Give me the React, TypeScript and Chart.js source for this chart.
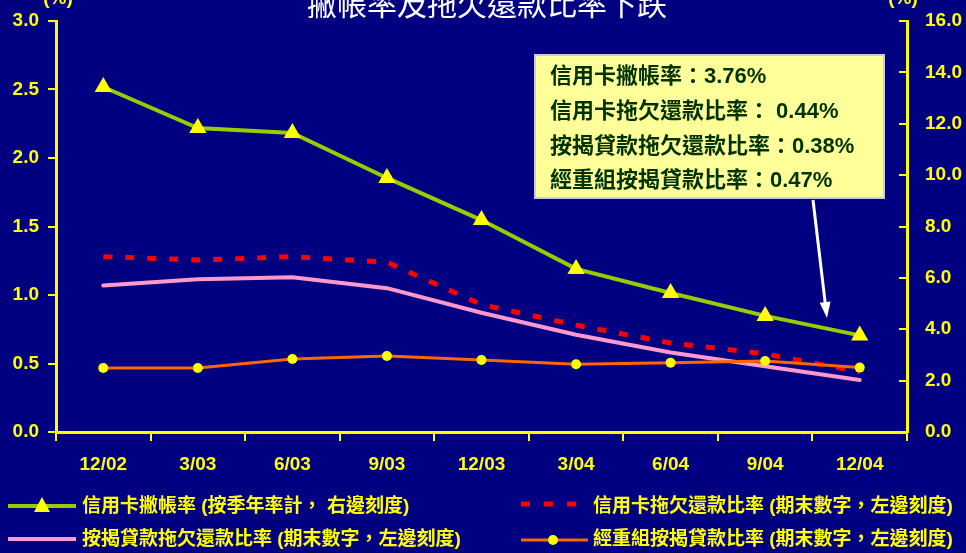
import React, { useEffect, useRef } from "react";
import { Chart, registerables } from "chart.js";

Chart.register(...registerables);

const categories = ["12/02", "3/03", "6/03", "9/03", "12/03", "3/04", "6/04", "9/04", "12/04"];
const chargeOffRate = [13.43, 11.83, 11.64, 9.89, 8.25, 6.35, 5.41, 4.52, 3.76];
const cardDelinquency = [1.28, 1.255, 1.28, 1.24, 0.93, 0.78, 0.65, 0.57, 0.44];
const mortgageDelinquency = [1.07, 1.115, 1.13, 1.05, 0.87, 0.71, 0.58, 0.48, 0.38];
const rescheduledMortgage = [0.467, 0.467, 0.533, 0.555, 0.525, 0.495, 0.505, 0.518, 0.47];

const leftTicks = [0, 0.5, 1, 1.5, 2, 2.5, 3];
const rightTicks = [0, 2, 4, 6, 8, 10, 12, 14, 16];

const titleText = "撇帳率及拖欠還款比率下跌";
const unitLabel = "(%)";
const calloutLines = [
  "信用卡撇帳率：3.76%",
  "信用卡拖欠還款比率： 0.44%",
  "按揭貸款拖欠還款比率：0.38%",
  "經重組按揭貸款比率：0.47%",
];
const legendLabels = [
  "信用卡撇帳率 (按季年率計， 右邊刻度)",
  "信用卡拖欠還款比率 (期末數字，左邊刻度)",
  "按揭貸款拖欠還款比率 (期末數字，左邊刻度)",
  "經重組按揭貸款比率 (期末數字，左邊刻度)",
];

const NAVY = "#000080";
const YELLOW = "#FFFF00";
const GREEN = "#99CC00";
const PINK = "#FF99CC";
const RED = "#FF0000";
const ORANGE = "#FF6600";
const LATIN = "'Liberation Sans', Arial, sans-serif";
const MIXED = "'Liberation Sans', 'Noto Sans CJK TC', sans-serif";

const decorPlugin = {
  id: "decor",
  beforeDraw(chart: any) {
    const ctx = chart.ctx;
    ctx.save();
    ctx.fillStyle = NAVY;
    ctx.fillRect(0, 0, chart.width, chart.height);
    ctx.restore();
  },
  afterDraw(chart: any) {
    const ctx = chart.ctx;
    const area = chart.chartArea;
    const yR = chart.scales.yR;
    ctx.save();

    // inward ticks on the right axis
    ctx.strokeStyle = YELLOW;
    ctx.lineWidth = 2;
    rightTicks.forEach((v) => {
      const y = Math.round(yR.getPixelForValue(v));
      ctx.beginPath();
      ctx.moveTo(area.right - 8, y);
      ctx.lineTo(area.right, y);
      ctx.stroke();
    });

    // title
    ctx.fillStyle = "#FFFFFF";
    ctx.font = "30px 'Noto Sans CJK TC', sans-serif";
    ctx.textAlign = "center";
    ctx.textBaseline = "alphabetic";
    ctx.fillText(titleText, 487, 15);

    // unit labels
    ctx.fillStyle = YELLOW;
    ctx.font = `bold 19px ${LATIN}`;
    ctx.fillText(unitLabel, area.left + 2, 4);
    ctx.fillText(unitLabel, area.right - 4, 4);

    // callout box
    const bx = 535, by = 55, bw = 349, bh = 143;
    ctx.fillStyle = "#FFFF99";
    ctx.fillRect(bx, by, bw, bh);
    ctx.strokeStyle = "#C8C8F0";
    ctx.lineWidth = 2;
    ctx.strokeRect(bx, by, bw, bh);
    ctx.fillStyle = "#003300";
    ctx.font = `bold 22px ${MIXED}`;
    ctx.textAlign = "left";
    ctx.textBaseline = "middle";
    const lineYs = [77, 112, 147, 181];
    calloutLines.forEach((t, i) => ctx.fillText(t, 550, lineYs[i]));

    // arrow
    const ax0 = 813, ay0 = by + bh + 2, ax1 = 827, ay1 = 318;
    const ang = Math.atan2(ay1 - ay0, ax1 - ax0);
    ctx.strokeStyle = "#FFFFFF";
    ctx.fillStyle = "#FFFFFF";
    ctx.lineWidth = 3;
    ctx.beginPath();
    ctx.moveTo(ax0, ay0);
    ctx.lineTo(ax1 - Math.cos(ang) * 12, ay1 - Math.sin(ang) * 12);
    ctx.stroke();
    ctx.beginPath();
    ctx.moveTo(ax1, ay1);
    ctx.lineTo(ax1 - Math.cos(ang) * 16 + Math.sin(ang) * 5.5, ay1 - Math.sin(ang) * 16 - Math.cos(ang) * 5.5);
    ctx.lineTo(ax1 - Math.cos(ang) * 16 - Math.sin(ang) * 5.5, ay1 - Math.sin(ang) * 16 + Math.cos(ang) * 5.5);
    ctx.closePath();
    ctx.fill();

    // legend
    const r1 = 506, r2 = 539;
    ctx.strokeStyle = GREEN;
    ctx.lineWidth = 4;
    ctx.beginPath();
    ctx.moveTo(8, r1);
    ctx.lineTo(76, r1);
    ctx.stroke();
    ctx.fillStyle = YELLOW;
    ctx.beginPath();
    ctx.moveTo(42, r1 - 9);
    ctx.lineTo(50, r1 + 6);
    ctx.lineTo(34, r1 + 6);
    ctx.closePath();
    ctx.fill();
    ctx.strokeStyle = PINK;
    ctx.lineWidth = 4;
    ctx.beginPath();
    ctx.moveTo(8, r2);
    ctx.lineTo(76, r2);
    ctx.stroke();
    ctx.strokeStyle = RED;
    ctx.lineWidth = 5;
    ctx.setLineDash([9, 14]);
    ctx.beginPath();
    ctx.moveTo(521, r1 - 2);
    ctx.lineTo(578, r1 - 2);
    ctx.stroke();
    ctx.setLineDash([]);
    ctx.strokeStyle = ORANGE;
    ctx.lineWidth = 3;
    ctx.beginPath();
    ctx.moveTo(521, r2 + 1);
    ctx.lineTo(588, r2 + 1);
    ctx.stroke();
    ctx.fillStyle = YELLOW;
    ctx.beginPath();
    ctx.arc(553, r2 + 1, 5, 0, Math.PI * 2);
    ctx.fill();

    ctx.fillStyle = YELLOW;
    ctx.font = `bold 19px ${MIXED}`;
    ctx.textAlign = "left";
    ctx.textBaseline = "middle";
    ctx.fillText(legendLabels[0], 82, r1 + 1);
    ctx.fillText(legendLabels[2], 82, r2 + 1);
    ctx.fillText(legendLabels[1], 593, r1 + 1);
    ctx.fillText(legendLabels[3], 593, r2 + 1);

    ctx.restore();
  },
};

export default function App() {
  const ref = useRef<HTMLCanvasElement | null>(null);

  useEffect(() => {
    if (!ref.current) return;
    const tickFont = { family: LATIN, size: 19, weight: "bold" as const };
    const chart = new Chart(ref.current, {
      type: "line",
      data: {
        labels: categories,
        datasets: [
          {
            label: legendLabels[0],
            data: chargeOffRate,
            yAxisID: "yR",
            borderColor: GREEN,
            borderWidth: 4,
            pointStyle: "triangle",
            pointRadius: 10,
            pointBackgroundColor: YELLOW,
            pointBorderColor: YELLOW,
            pointBorderWidth: 0,
            tension: 0,
          },
          {
            label: legendLabels[3],
            data: rescheduledMortgage,
            yAxisID: "yL",
            borderColor: ORANGE,
            borderWidth: 3,
            pointStyle: "circle",
            pointRadius: 5,
            pointBackgroundColor: YELLOW,
            pointBorderColor: YELLOW,
            pointBorderWidth: 0,
            tension: 0,
          },
          {
            label: legendLabels[1],
            data: cardDelinquency,
            yAxisID: "yL",
            borderColor: RED,
            borderWidth: 5,
            borderDash: [9, 13],
            borderCapStyle: "butt",
            pointRadius: 0,
            tension: 0,
          },
          {
            label: legendLabels[2],
            data: mortgageDelinquency,
            yAxisID: "yL",
            borderColor: PINK,
            borderWidth: 4,
            borderCapStyle: "round",
            pointRadius: 0,
            tension: 0,
          },
        ],
      },
      options: {
        animation: false,
        responsive: false,
        maintainAspectRatio: false,
        layout: { padding: { top: 21, left: 0, right: 0, bottom: 0 } },
        plugins: {
          legend: { display: false },
          tooltip: { enabled: false },
          title: { display: false },
        },
        scales: {
          x: {
            offset: true,
            grid: {
              offset: true,
              drawOnChartArea: false,
              drawTicks: true,
              tickLength: 9,
              color: YELLOW,
              lineWidth: 2,
            },
            border: { color: YELLOW, width: 3 },
            ticks: { color: YELLOW, font: tickFont, padding: 12, maxRotation: 0, autoSkip: false },
            afterFit: (s: any) => {
              s.height = 121;
              s.paddingLeft = 0;
              s.paddingRight = 0;
            },
          },
          yL: {
            type: "linear",
            position: "left",
            min: 0,
            max: 3,
            afterBuildTicks: (s: any) => {
              s.ticks = leftTicks.map((v) => ({ value: v }));
            },
            grid: {
              drawOnChartArea: false,
              drawTicks: true,
              tickLength: 8,
              color: YELLOW,
              lineWidth: 2,
            },
            border: { color: YELLOW, width: 3 },
            ticks: {
              color: YELLOW,
              font: tickFont,
              padding: 9,
              callback: (v: any) => Number(v).toFixed(1),
            },
            afterFit: (s: any) => {
              s.width = 56;
              s.paddingTop = 0;
              s.paddingBottom = 0;
            },
          },
          yR: {
            type: "linear",
            position: "right",
            min: 0,
            max: 16,
            afterBuildTicks: (s: any) => {
              s.ticks = rightTicks.map((v) => ({ value: v }));
            },
            grid: {
              drawOnChartArea: false,
              drawTicks: false,
              color: YELLOW,
              lineWidth: 2,
            },
            border: { color: YELLOW, width: 3 },
            ticks: {
              color: YELLOW,
              font: tickFont,
              padding: 18,
              callback: (v: any) => Number(v).toFixed(1),
            },
            afterFit: (s: any) => {
              s.width = 59;
              s.paddingTop = 0;
              s.paddingBottom = 0;
            },
          },
        },
      },
      plugins: [decorPlugin],
    });
    return () => chart.destroy();
  }, []);

  return (
    <div style={{ position: "fixed", left: 0, top: 0, width: 966, height: 553, background: NAVY }}>
      <canvas ref={ref} width={966} height={553} style={{ display: "block", width: 966, height: 553 }} />
    </div>
  );
}
